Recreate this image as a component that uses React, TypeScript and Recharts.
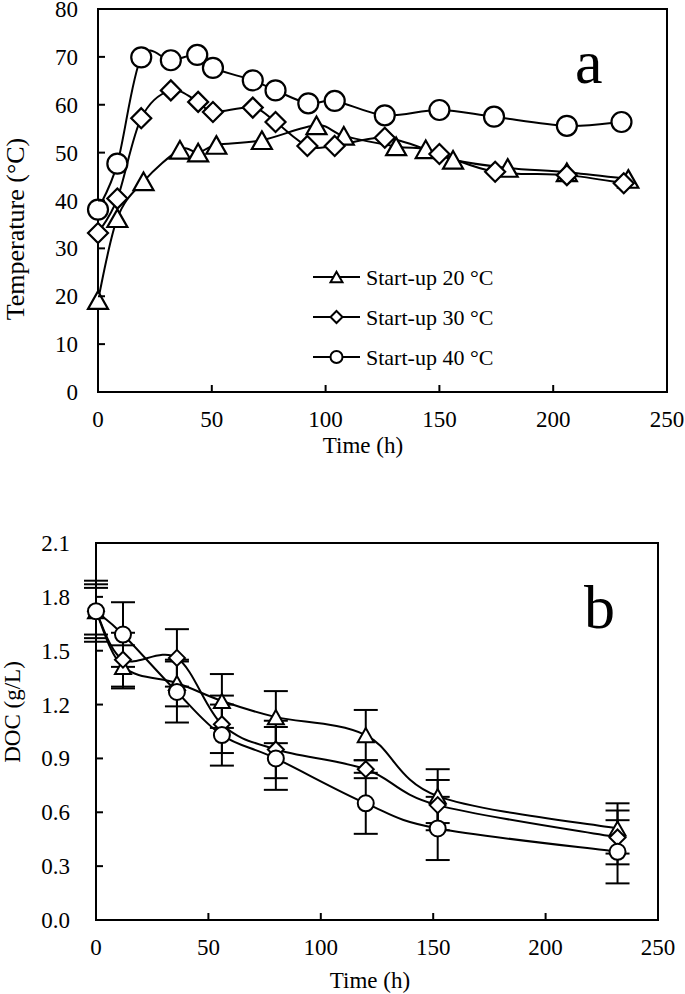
import React from "react";
import { LineChart, Line, XAxis, YAxis, ErrorBar, ReferenceArea } from "recharts";

// Panel a: temperature profiles
const time20 = [0, 8.5, 20, 36, 44, 52, 72, 96, 108, 131, 144, 156, 180, 206, 233];
const temp20 = [19.2, 36.3, 44, 50.6, 50, 51.6, 52.6, 55.7, 53.5, 51.3, 50.7, 48.5, 46.8, 45.9, 44.5];
const time30 = [0, 8.5, 19, 32, 44, 50.5, 68, 78, 92, 104, 126, 150, 174.5, 206, 231];
const temp30 = [33.2, 40.4, 57.2, 63, 60.6, 58.5, 59.4, 56.4, 51.4, 51.4, 53.1, 49.7, 46, 45.3, 43.6];
const time40 = [0, 8.5, 19, 32, 43.6, 50.5, 68, 78, 92.4, 104, 126, 150, 174, 206, 230];
const temp40 = [38.1, 47.7, 69.9, 69.3, 70.4, 67.7, 65.1, 63, 60.3, 60.8, 57.8, 58.9, 57.5, 55.6, 56.4];

// Panel b: DOC with standard deviations
const docTime = [0, 12, 36, 56, 80, 120, 152, 232];
const doc20 = [1.72, 1.41, 1.32, 1.22, 1.13, 1.03, 0.69, 0.51];
const doc30 = [1.72, 1.45, 1.46, 1.09, 0.95, 0.84, 0.64, 0.46];
const doc40 = [1.72, 1.59, 1.27, 1.03, 0.9, 0.65, 0.51, 0.38];
const err20 = [0.15, 0.12, 0.13, 0.15, 0.145, 0.14, 0.15, 0.14];
const err30 = [0.17, 0.15, 0.16, 0.16, 0.16, 0.05, 0.14, 0.15];
const err40 = [0.13, 0.18, 0.17, 0.17, 0.175, 0.17, 0.176, 0.176];

const tempTicks = [0, 10, 20, 30, 40, 50, 60, 70, 80];
const docTicks = [0, 0.3, 0.6, 0.9, 1.2, 1.5, 1.8, 2.1];
const timeTicks = [0, 50, 100, 150, 200, 250];
const legendLabels = ["Start-up 20 °C", "Start-up 30 °C", "Start-up 40 °C"];

const FONT = "'Liberation Serif', 'Times New Roman', serif";

const zip = (xs: number[], ys: number[], es?: number[]) =>
  xs.map((t, i) => ({ t, v: ys[i], err: es ? es[i] : 0 }));

// Excel-like smoothed line (Catmull-Rom as cubic Bezier)
const excelSmooth = (context: any) => {
  let pts: number[][] = [];
  return {
    areaStart() {},
    areaEnd() {},
    lineStart() {
      pts = [];
    },
    lineEnd() {
      if (!pts.length) return;
      context.moveTo(pts[0][0], pts[0][1]);
      for (let i = 0; i < pts.length - 1; i++) {
        const p0 = pts[i - 1] || pts[i];
        const p1 = pts[i];
        const p2 = pts[i + 1];
        const p3 = pts[i + 2] || p2;
        context.bezierCurveTo(
          p1[0] + (p2[0] - p0[0]) / 6,
          p1[1] + (p2[1] - p0[1]) / 6,
          p2[0] - (p3[0] - p1[0]) / 6,
          p2[1] - (p3[1] - p1[1]) / 6,
          p2[0],
          p2[1]
        );
      }
    },
    point(x: number, y: number) {
      pts.push([+x, +y]);
    },
  };
};

const Marker = ({ kind, cx, cy, s, sw }: any) => {
  if (cx == null || cy == null) return null;
  if (kind === "tri") {
    const h = s * 0.88;
    return (
      <polygon
        points={`${cx},${cy - h / 2} ${cx + s / 2},${cy + h / 2} ${cx - s / 2},${cy + h / 2}`}
        fill="#fff"
        stroke="#000"
        strokeWidth={sw}
      />
    );
  }
  if (kind === "dia") {
    const r = s / 2;
    return (
      <polygon
        points={`${cx},${cy - r} ${cx + r},${cy} ${cx},${cy + r} ${cx - r},${cy}`}
        fill="#fff"
        stroke="#000"
        strokeWidth={sw}
      />
    );
  }
  return <circle cx={cx} cy={cy} r={s / 2} fill="#fff" stroke="#000" strokeWidth={sw} />;
};

const dotOf = (kind: string, s: number, sw: number) => (p: any) =>
  <Marker key={`${kind}-${p.index}`} kind={kind} cx={p.cx} cy={p.cy} s={s} sw={sw} />;

const XTick = ({ x, y, payload }: any) => (
  <g>
    <line x1={x} y1={y} x2={x} y2={y - 7} stroke="#000" strokeWidth={2} />
    <text x={x} y={y + 35} textAnchor="middle" fontSize={23} fontFamily={FONT} fill="#000">
      {payload.value}
    </text>
  </g>
);

const YTick = ({ x, y, payload, gap, fmt }: any) => (
  <g>
    <line x1={x} y1={y} x2={x + 7} y2={y} stroke="#000" strokeWidth={2} />
    <text x={x - gap} y={y} dy="0.35em" textAnchor="end" fontSize={23} fontFamily={FONT} fill="#000">
      {fmt ? fmt(payload.value) : payload.value}
    </text>
  </g>
);

const AxisTitle = ({ tx, ty, rotate, text, size = 23 }: any) => (
  <text
    x={tx}
    y={ty}
    textAnchor="middle"
    fontSize={size}
    fontFamily={FONT}
    fill="#000"
    transform={rotate ? `rotate(-90 ${tx} ${ty})` : undefined}
  >
    {text}
  </text>
);

// legend drawn inside panel a, like the original in-plot key
const LegendBox = ({ x, y }: any) => (
  <g>
    {legendLabels.map((label, i) => {
      const cy = y + i * 40;
      const kind = ["tri", "dia", "circ"][i];
      return (
        <g key={label}>
          <line x1={x} y1={cy} x2={x + 47} y2={cy} stroke="#000" strokeWidth={2} />
          <Marker kind={kind} cx={x + 23.5} cy={cy} s={12} sw={2} />
          <text x={x + 53} y={cy} dy="0.35em" fontSize={22} fontFamily={FONT} fill="#000">
            {label}
          </text>
        </g>
      );
    })}
  </g>
);

const App = () => {
  return (
    <div style={{ position: "absolute", left: 0, top: 0, width: 685, height: 994, background: "#fff" }}>
      <div style={{ position: "absolute", left: 0, top: 0 }}>
        <LineChart width={685} height={470} margin={{ top: 9, right: 18, left: 0, bottom: 18 }}>
          <XAxis
            type="number"
            dataKey="t"
            domain={[0, 250]}
            ticks={timeTicks}
            axisLine={false}
            tickLine={false}
            tickSize={0}
            tickMargin={0}
            height={60}
            tick={<XTick />}
            label={<AxisTitle tx={363} ty={453} text="Time (h)" />}
          />
          <YAxis
            type="number"
            domain={[0, 80]}
            ticks={tempTicks}
            axisLine={false}
            tickLine={false}
            tickSize={0}
            tickMargin={0}
            width={98}
            tick={<YTick gap={20} />}
            label={<AxisTitle tx={24} ty={229} rotate size={26} text="Temperature (°C)" />}
          />
          <ReferenceArea x1={0} x2={250} y1={0} y2={80} fill="none" stroke="#000" strokeWidth={2} />
          <Line
            data={zip(time20, temp20)}
            dataKey="v"
            name={legendLabels[0]}
            type={excelSmooth as any}
            stroke="#000"
            strokeWidth={2}
            dot={dotOf("tri", 20, 2.2)}
            isAnimationActive={false}
          />
          <Line
            data={zip(time30, temp30)}
            dataKey="v"
            name={legendLabels[1]}
            type={excelSmooth as any}
            stroke="#000"
            strokeWidth={2}
            dot={dotOf("dia", 20, 2.2)}
            isAnimationActive={false}
          />
          <Line
            data={zip(time40, temp40)}
            dataKey="v"
            name={legendLabels[2]}
            type={excelSmooth as any}
            stroke="#000"
            strokeWidth={2}
            dot={dotOf("circ", 20, 2.2)}
            isAnimationActive={false}
          />
        </LineChart>
      </div>

      <div style={{ position: "absolute", left: 0, top: 470 }}>
        <LineChart width={685} height={524} margin={{ top: 73, right: 27, left: 0, bottom: 14 }}>
          <XAxis
            type="number"
            dataKey="t"
            domain={[0, 250]}
            ticks={timeTicks}
            axisLine={false}
            tickLine={false}
            tickSize={0}
            tickMargin={0}
            height={60}
            tick={<XTick />}
            label={<AxisTitle tx={370} ty={518} text="Time (h)" />}
          />
          <YAxis
            type="number"
            domain={[0, 2.1]}
            ticks={docTicks}
            axisLine={false}
            tickLine={false}
            tickSize={0}
            tickMargin={0}
            width={96}
            tick={<YTick gap={26} fmt={(v: number) => v.toFixed(1)} />}
            label={<AxisTitle tx={20} ty={242} rotate text="DOC (g/L)" />}
          />
          <ReferenceArea x1={0} x2={250} y1={0} y2={2.1} fill="none" stroke="#000" strokeWidth={2} />
          <Line
            data={zip(docTime, doc20, err20)}
            dataKey="v"
            type={excelSmooth as any}
            stroke="#000"
            strokeWidth={2}
            dot={dotOf("tri", 16, 2)}
            isAnimationActive={false}
          >
            <ErrorBar dataKey="err" width={12} stroke="#000" strokeWidth={2} />
          </Line>
          <Line
            data={zip(docTime, doc30, err30)}
            dataKey="v"
            type={excelSmooth as any}
            stroke="#000"
            strokeWidth={2}
            dot={dotOf("dia", 16, 2)}
            isAnimationActive={false}
          >
            <ErrorBar dataKey="err" width={12} stroke="#000" strokeWidth={2} />
          </Line>
          <Line
            data={zip(docTime, doc40, err40)}
            dataKey="v"
            type={excelSmooth as any}
            stroke="#000"
            strokeWidth={2}
            dot={dotOf("circ", 16, 2)}
            isAnimationActive={false}
          >
            <ErrorBar dataKey="err" width={12} stroke="#000" strokeWidth={2} />
          </Line>
        </LineChart>
      </div>

      <svg
        width={685}
        height={994}
        style={{ position: "absolute", left: 0, top: 0, pointerEvents: "none" }}
      >
        <LegendBox x={313} y={277} />
        <text x={575} y={83} fontSize={62} fontFamily={FONT} fill="#000">
          a
        </text>
        <text x={584} y={628} fontSize={62} fontFamily={FONT} fill="#000">
          b
        </text>
      </svg>
    </div>
  );
};

export default App;
